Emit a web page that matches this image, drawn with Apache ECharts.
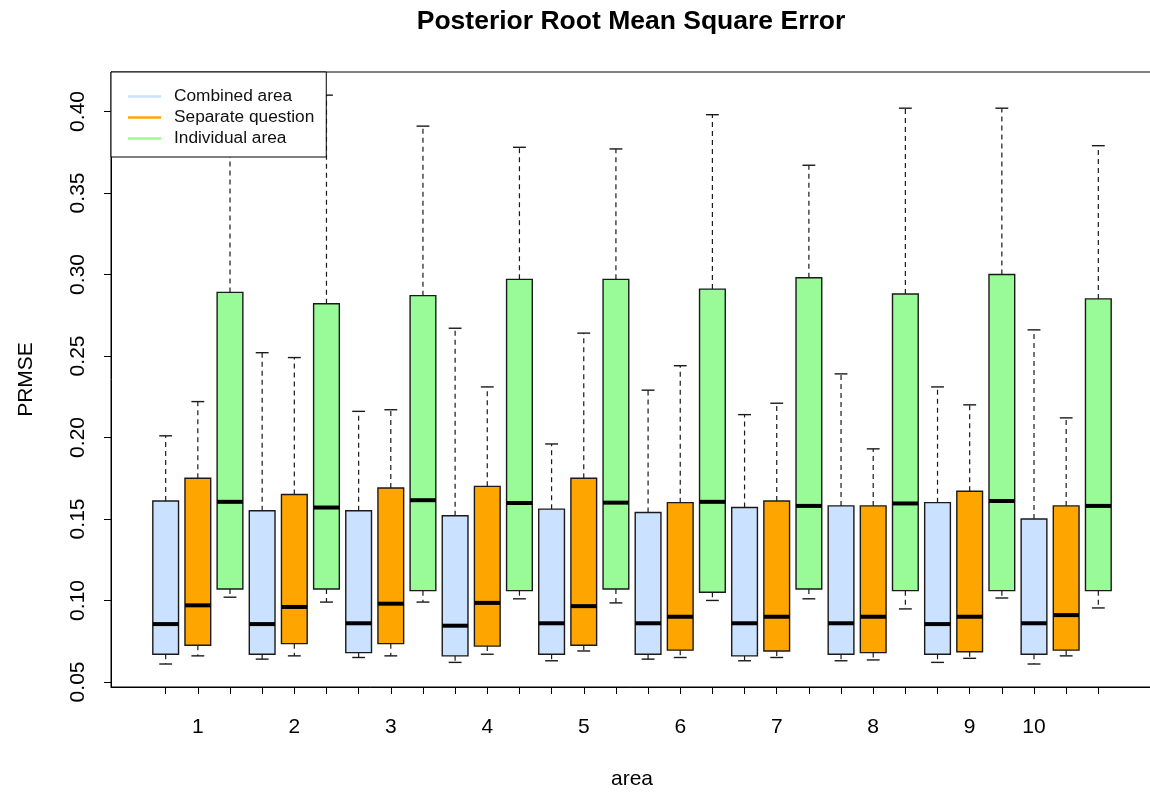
<!DOCTYPE html>
<html>
<head>
<meta charset="utf-8">
<script src="https://cdn.jsdelivr.net/npm/echarts@6/dist/echarts.min.js"></script>
<style>
html,body{margin:0;padding:0;background:#fff;}
#chart{width:1150px;height:794px;}
</style>
</head>
<body>
<div id="chart"></div>
<script>
// ---- data ----
const areas = ['1','2','3','4','5','6','7','8','9','10'];
const seriesNames = ['Combined area','Separate question','Individual area'];
const seriesColors = ['#CAE1FF','#FFA500','#98FB98'];

// Combined area
const combinedLow    = [0.061, 0.064, 0.065, 0.062, 0.063, 0.064, 0.063, 0.063, 0.062, 0.061];
const combinedQ1     = [0.067, 0.067, 0.068, 0.066, 0.067, 0.067, 0.066, 0.067, 0.067, 0.067];
const combinedMedian = [0.0855, 0.0855, 0.086, 0.0845, 0.086, 0.086, 0.086, 0.086, 0.0855, 0.086];
const combinedQ3     = [0.161, 0.155, 0.155, 0.152, 0.156, 0.154, 0.157, 0.158, 0.160, 0.150];
const combinedHigh   = [0.201, 0.252, 0.216, 0.267, 0.196, 0.229, 0.214, 0.239, 0.231, 0.266];

// Separate question
const separateLow    = [0.066, 0.066, 0.066, 0.067, 0.069, 0.065, 0.065, 0.0635, 0.0645, 0.066];
const separateQ1     = [0.0725, 0.0735, 0.0735, 0.072, 0.0725, 0.0695, 0.069, 0.068, 0.0685, 0.0695];
const separateMedian = [0.097, 0.096, 0.098, 0.0985, 0.0965, 0.090, 0.090, 0.090, 0.090, 0.091];
const separateQ3     = [0.175, 0.165, 0.169, 0.170, 0.175, 0.160, 0.161, 0.158, 0.167, 0.158];
const separateHigh   = [0.222, 0.249, 0.217, 0.231, 0.264, 0.244, 0.221, 0.193, 0.220, 0.212];

// Individual area
const individualLow    = [0.102, 0.099, 0.099, 0.101, 0.0985, 0.100, 0.101, 0.0948, 0.1015, 0.0954];
const individualQ1     = [0.107, 0.107, 0.106, 0.106, 0.107, 0.105, 0.107, 0.106, 0.106, 0.106];
const individualMedian = [0.1605, 0.157, 0.1615, 0.1598, 0.160, 0.1605, 0.158, 0.1595, 0.161, 0.158];
const individualQ3     = [0.289, 0.282, 0.287, 0.297, 0.297, 0.291, 0.298, 0.288, 0.300, 0.285];
const individualHigh   = [0.400, 0.410, 0.391, 0.378, 0.377, 0.398, 0.367, 0.402, 0.402, 0.379];

// x-axis tick labels and the box positions they sit under
const xTickLabels = ['1','2','3','4','5','6','7','8','9','10'];
const xLabelPositions = [2, 5, 8, 11, 14, 17, 20, 23, 26, 28];
const yTickValues = [0.05, 0.10, 0.15, 0.20, 0.25, 0.30, 0.35, 0.40];

// ---- build ----
const stats = [
  [combinedLow, combinedQ1, combinedMedian, combinedQ3, combinedHigh],
  [separateLow, separateQ1, separateMedian, separateQ3, separateHigh],
  [individualLow, individualQ1, individualMedian, individualQ3, individualHigh]
];
const nGroups = seriesNames.length;
const boxPositions = [];
for (let i = 0; i < areas.length * nGroups; i++) boxPositions.push(i + 1);

const FONT = '"Liberation Sans", Arial, Helvetica, sans-serif';
const INK = '#1a1a1a';

function renderItem(params, api) {
  const x = api.value(0);
  const lo = api.coord([x, api.value(1)]);
  const q1 = api.coord([x, api.value(2)]);
  const md = api.coord([x, api.value(3)]);
  const q3 = api.coord([x, api.value(4)]);
  const hi = api.coord([x, api.value(5)]);
  const bw = api.size([0.8, 0])[0];
  const sw = bw / 2;
  const cx = md[0];
  const fill = api.visual('color');
  const dash = {stroke: INK, lineWidth: 1.2, lineDash: [5, 4]};
  const solid = {stroke: INK, lineWidth: 1.4};
  return {
    type: 'group',
    children: [
      {type: 'line', shape: {x1: cx, y1: q3[1], x2: cx, y2: hi[1]}, style: dash},
      {type: 'line', shape: {x1: cx, y1: q1[1], x2: cx, y2: lo[1]}, style: dash},
      {type: 'line', shape: {x1: cx - sw / 2, y1: hi[1], x2: cx + sw / 2, y2: hi[1]}, style: solid},
      {type: 'line', shape: {x1: cx - sw / 2, y1: lo[1], x2: cx + sw / 2, y2: lo[1]}, style: solid},
      {type: 'rect', shape: {x: cx - bw / 2, y: q3[1], width: bw, height: q1[1] - q3[1]},
        style: {fill: fill, stroke: INK, lineWidth: 1.4}},
      {type: 'line', shape: {x1: cx - bw / 2, y1: md[1], x2: cx + bw / 2, y2: md[1]},
        style: {stroke: '#000', lineWidth: 4}}
    ]
  };
}

const series = seriesNames.map((name, s) => {
  const arr = stats[s];
  const data = areas.map((a, i) => [i * nGroups + s + 1, arr[0][i], arr[1][i], arr[2][i], arr[3][i], arr[4][i]]);
  return {
    name: name,
    type: 'custom',
    renderItem: renderItem,
    itemStyle: {color: seriesColors[s]},
    encode: {x: 0, y: [1, 2, 3, 4, 5]},
    data: data,
    z: 2
  };
});

const chart = echarts.init(document.getElementById('chart'), null, {renderer: 'canvas'});
chart.setOption({
  animation: false,
  backgroundColor: '#fff',
  title: {
    text: 'Posterior Root Mean Square Error',
    left: 626,
    textAlign: 'center',
    top: 3,
    textStyle: {fontFamily: FONT, fontSize: 26.5, fontWeight: 'bold', color: '#000'}
  },
  legend: {
    orient: 'vertical',
    left: 111,
    top: 72,
    padding: [14, 12, 8, 17],
    itemGap: 0,
    itemWidth: 33,
    itemHeight: 2.5,
    icon: 'rect',
    backgroundColor: '#fff',
    borderColor: '#000',
    borderWidth: 1,
    borderRadius: 0,
    itemStyle: {borderWidth: 0},
    textStyle: {fontFamily: FONT, fontSize: 17.3, color: '#111', lineHeight: 21, padding: [0, 0, 0, 8]},
    data: seriesNames,
    selectedMode: false,
    z: 10
  },
  grid: {
    left: 111, top: 72, width: 1042, height: 615,
    containLabel: false,
    outerBoundsMode: 'none',
    show: true, borderColor: '#000', borderWidth: 1, backgroundColor: 'transparent'
  },
  xAxis: {
    type: 'value',
    min: -0.7,
    max: 31.7,
    name: 'area',
    nameLocation: 'middle',
    nameGap: 82,
    nameTextStyle: {fontFamily: FONT, fontSize: 21, color: '#000'},
    axisLine: {show: true, onZero: false, lineStyle: {color: '#000', width: 1}},
    axisTick: {show: true, length: 7, customValues: boxPositions, lineStyle: {color: '#000'}},
    axisLabel: {
      show: true,
      customValues: xLabelPositions,
      margin: 30,
      fontFamily: FONT, fontSize: 21, color: '#000',
      formatter: function (v) {
        const k = xLabelPositions.indexOf(Math.round(v));
        return k >= 0 ? xTickLabels[k] : '';
      }
    },
    splitLine: {show: false}
  },
  yAxis: {
    type: 'value',
    min: 0.0469,
    max: 0.4242,
    name: 'PRMSE',
    nameLocation: 'middle',
    nameRotate: 90,
    nameGap: 74,
    nameTextStyle: {fontFamily: FONT, fontSize: 21, color: '#000'},
    axisLine: {show: true, onZero: false, lineStyle: {color: '#000', width: 1}},
    axisTick: {show: true, length: 7, customValues: yTickValues, lineStyle: {color: '#000'}},
    axisLabel: {
      show: true,
      customValues: yTickValues,
      rotate: 90,
      margin: 22,
      fontFamily: FONT, fontSize: 21, color: '#000',
      formatter: function (v) { return v.toFixed(2); }
    },
    splitLine: {show: false}
  },
  series: series
});
</script>
</body>
</html>
